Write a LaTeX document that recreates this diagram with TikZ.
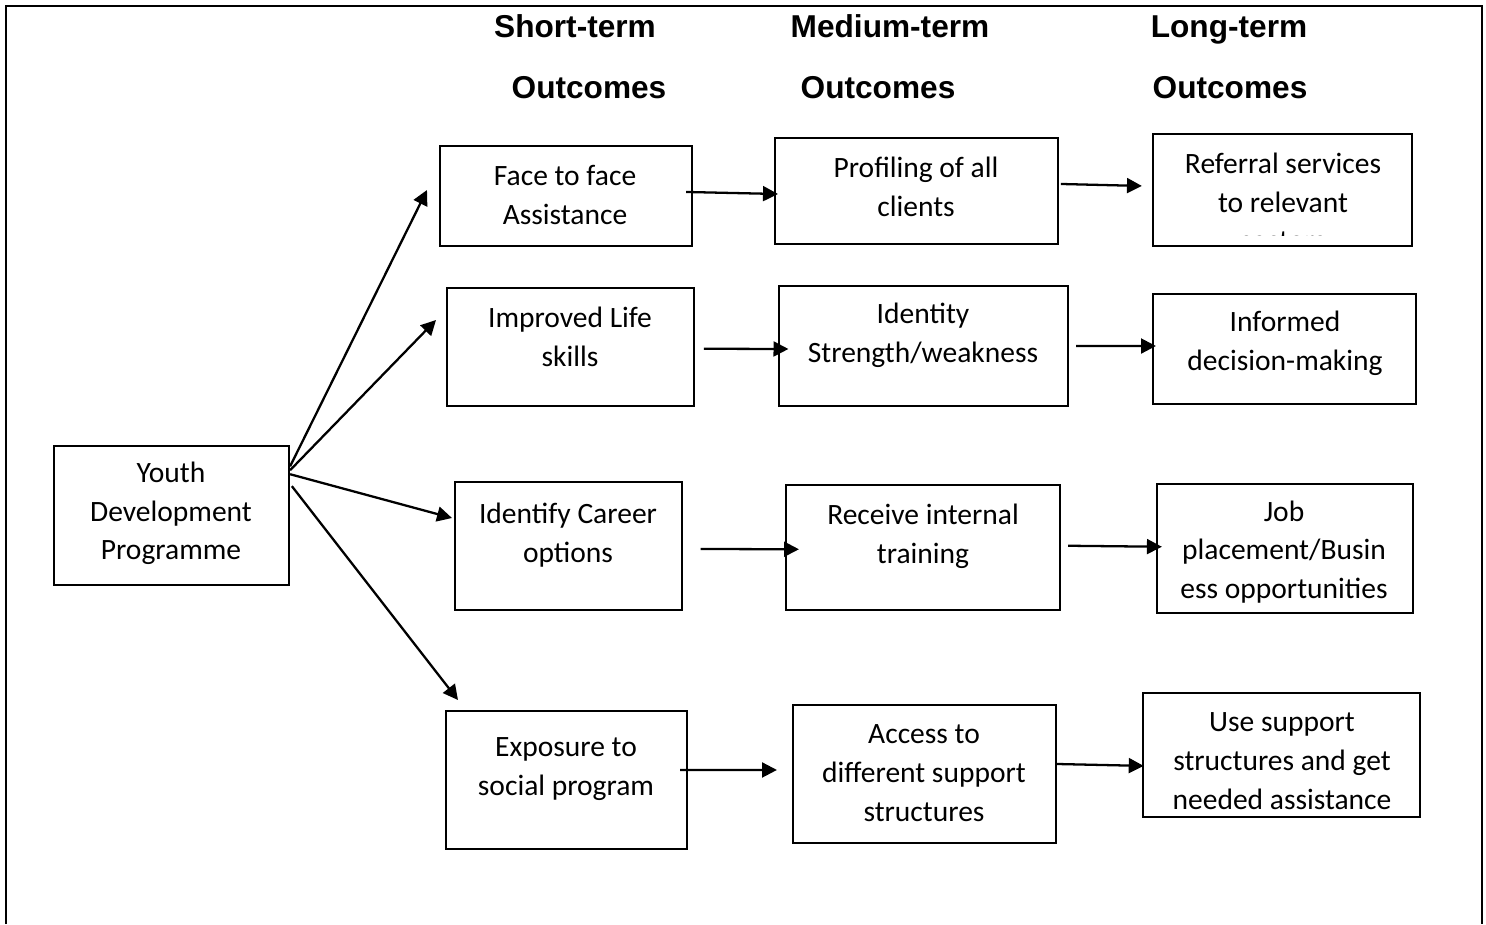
\documentclass[tikz,border=0pt]{standalone}
\usepackage{fontspec}
\setmainfont{Carlito}
\newfontfamily\headfont{Liberation Sans}
\usetikzlibrary{arrows.meta}
\tikzset{
  outbox/.style={draw, line width=1.3pt, inner sep=0pt},
  boxtext/.style={align=center, inner sep=0pt, font=\fontsize{16.8}{22}\selectfont},
  head/.style={inner sep=0pt, text height=13pt, text depth=0pt, font=\headfont\bfseries\fontsize{18}{22}\selectfont},
  arr/.style={-{Triangle[length=8.5pt,width=8.5pt]}, line width=1.3pt},
}
\begin{document}
\begin{tikzpicture}[x=0.02cm, y=-0.02cm]
            \useasboundingbox (0,0) rectangle (1486,924);
            \draw[line width=1.6pt] (6,924) -- (6,6) -- (1482,6) -- (1482,924);
            % column heads
            \node[head] (shortA) at (575,26) {Short-term};
            \node[head] (shortB) at (589,87) {Outcomes};
            \node[head] (medA) at (890,26) {Medium-term};
            \node[head] (medB) at (878,87) {Outcomes};
            \node[head] (longA) at (1229,26) {Long-term};
            \node[head] (longB) at (1230,87) {Outcomes};
            % boxes
            \node[outbox, minimum width=4.70cm, minimum height=2.78cm] (youth) at (171.5,515.5) {};
            \node[outbox, minimum width=5.04cm, minimum height=2.00cm] (face) at (566,196) {};
            \node[outbox, minimum width=5.66cm, minimum height=2.12cm] (prof) at (916.5,191) {};
            \node[outbox, minimum width=5.18cm, minimum height=2.24cm] (refer) at (1282.5,190) {};
            \node[outbox, minimum width=4.94cm, minimum height=2.36cm] (life) at (570.5,347) {};
            \node[outbox, minimum width=5.78cm, minimum height=2.40cm] (ident) at (923.5,346) {};
            \node[outbox, minimum width=5.26cm, minimum height=2.20cm] (inform) at (1284.5,349) {};
            \node[outbox, minimum width=4.54cm, minimum height=2.56cm] (career) at (568.5,546) {};
            \node[outbox, minimum width=5.48cm, minimum height=2.50cm] (train) at (923,547.5) {};
            \node[outbox, minimum width=5.12cm, minimum height=2.58cm] (job) at (1285,548.5) {};
            \node[outbox, minimum width=4.82cm, minimum height=2.76cm] (expo) at (566.5,780) {};
            \node[outbox, minimum width=5.26cm, minimum height=2.76cm] (access) at (924.5,774) {};
            \node[outbox, minimum width=5.54cm, minimum height=2.48cm] (usesup) at (1281.5,755) {};
            % box texts
            \node[boxtext] (youthT) at (171,513.5) {Youth\\Development\\Programme};
            \node[boxtext] (faceT) at (565,195) {Face to face\\Assistance};
            \node[boxtext] (profT) at (916,187) {Profiling of all\\clients};
            \begin{scope}
              \clip (1153,134) rectangle (1412,235);
              \node[boxtext] (referT) at (1283,202) {Referral services\\to relevant\\sectors};
            \end{scope}
            \node[boxtext] (lifeT) at (570,337) {Improved Life\\skills};
            \node[boxtext] (identT) at (923,335.5) {Identity\\Strength/weakness};
            \node[boxtext] (informT) at (1285,343) {Informed\\decision-making};
            \node[boxtext] (careerT) at (568,535) {Identify Career\\options};
            \node[boxtext] (trainT) at (923,536.5) {Receive internal\\training};
            \node[boxtext] (jobT) at (1284,552) {Job\\placement/Busin\\ess opportunities};
            \node[boxtext] (expoT) at (566,769) {Exposure to\\social program};
            \node[boxtext] (accessT) at (924,773) {Access to\\different support\\structures};
            \node[boxtext] (usesupT) at (1282,761) {Use support\\structures and get\\needed assistance};
            % fan out of the programme box
            \coordinate (tipA) at (427,190);
            \coordinate (tipB) at (436,320);
            \coordinate (tipC) at (452,518);
            \coordinate (tipD) at (458,700);
            \draw[arr] ([yshift=28pt]youth.east) -- (tipA);
            \draw[arr] ([yshift=25.8pt]youth.east) -- (tipB);
            \draw[arr] ([yshift=23.5pt]youth.east) -- (tipC);
            \draw[arr] ([xshift=1pt,yshift=16.7pt]youth.east) -- (tipD);
            % rows
            \draw[arr] ([xshift=-4pt,yshift=2.3pt]face.east) -- ([xshift=2.3pt,yshift=-1.7pt]prof.west);
            \draw[arr] ([xshift=1pt,yshift=4pt]prof.east) -- ([xshift=-5.7pt,yshift=2.3pt]refer.west);
            \draw[arr] ([xshift=5pt,yshift=-1pt]life.east) -- ([xshift=6pt,yshift=-1.7pt]ident.west);
            \draw[arr] ([xshift=4pt]ident.east) -- ([xshift=2.3pt,yshift=1.7pt]inform.west);
            \draw[arr] ([xshift=10pt,yshift=-1.7pt]career.east) -- ([xshift=8pt,yshift=-1pt]train.west);
            \draw[arr] ([xshift=4pt,yshift=1pt]train.east) -- ([xshift=3.4pt,yshift=1pt]job.west);
            \draw[arr] ([xshift=-4.5pt,yshift=5.7pt]expo.east) -- ([xshift=-8.5pt,yshift=2.3pt]access.west);
            \draw[arr] ([yshift=5.7pt]access.east) -- ([xshift=1pt,yshift=-6.2pt]usesup.west);
        \end{tikzpicture}
\end{document}
